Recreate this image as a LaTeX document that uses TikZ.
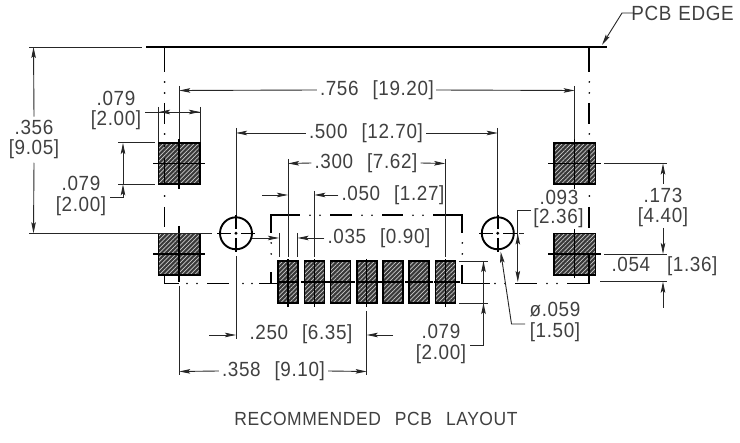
\documentclass[tikz,border=0pt]{standalone}
\usepackage{fontspec}
\setmainfont[LetterSpace=3,FakeStretch=0.92]{Liberation Sans}
\usetikzlibrary{arrows.meta,patterns.meta}
\definecolor{ink}{gray}{0.25}
\newcommand{\gp}{\hspace{14pt}}
\tikzset{
  dim/.style={line width=0.9pt,color=black!85},
  dimarr/.style={dim,-{Stealth[length=11pt,width=4.5pt,inset=2pt]}},
  outl/.style={line width=1.7pt,color=black},
  crossl/.style={line width=1.5pt,color=black},
  edgeline/.style={line width=2.4pt,color=black},
  lab/.style={inner sep=0pt,font=\fontsize{20.5}{21}\selectfont,text=ink,anchor=center},
  padbox/.style={fill=black!78,
     postaction={pattern={Lines[angle=45,distance=3.1pt,line width=0.7pt]},pattern color=white!80!black},
     postaction={draw=black,line width=1.6pt}},
  hole/.style={line width=1.9pt,draw=black}
}
\begin{document}
\begin{tikzpicture}[x=1pt,y=-1pt]
\useasboundingbox[fill=white] (0,0) rectangle (740,443);
% pads
\foreach \n/\xa/\ya in {tl/158.5/142.8,tr/553.8/142.8,bl/158.5/233.5,br/553.8/233.5}
  \path[padbox] (\xa,\ya) coordinate (p\n) rectangle ++(41.5,41.5);
\foreach \c in {288,314.3,340.5,366.7,392.8,419,445.3}
  \path[padbox] (\c-10,261.3) rectangle (\c+10,303);
% pcb edge
\draw[edgeline] (146,47) -- (607,47);
\draw[dim] (29,47) -- (142,47);
% outline left
\draw[outl] (164.6,47) -- (164.6,72) (164.6,103) -- (164.6,124) (164.6,158) -- (164.6,184) (164.6,207) -- (164.6,227);
\draw[outl] (164.6,275) -- (164.6,283.5) -- (179,283.5) (207,283.5) -- (229,283.5) (259,283.5) -- (271.2,283.5) -- (271.2,272) (271.2,233) -- (271.2,215.3) -- (300,215.3)
  (330,215.3) -- (352,215.3) (382,215.3) -- (403,215.3) (433,215.3) -- (462.3,215.3) -- (462.3,233) (462.3,265) -- (462.3,283.5) -- (490,283.5) (515,283.5) -- (537,283.5) (567,283.5) -- (589.3,283.5) -- (589.3,255)
  (589.3,47) -- (589.3,72) (589.3,103) -- (589.3,124) (589.3,150) -- (589.3,184) (589.3,207) -- (589.3,228);
\fill[black] \foreach \p in {(164.6,82),(164.6,93),(164.6,134),(164.6,146),(164.6,196),(589.3,82),(589.3,93),(589.3,134),(589.3,196),(187,283.5),(197,283.5),(243,283.5),(252,283.5),(271.2,243),(271.2,254),(310,215.3),(320,215.3),(362,215.3),(372,215.3),(413,215.3),(423,215.3),(462.3,243),(462.3,254),(495,283.5),(505,283.5),(547,283.5),(557,283.5)} {\p circle (0.95pt)};
\draw[outl] (265,283.5) -- (278,283.5);
% large pad crosses
\draw[crossl] (153,163.5) -- (205,163.5) (179.2,139) -- (179.2,189)
  (548,163.5) -- (601,163.5) (574.7,139) -- (574.7,189)
  (153,254) -- (205,254) (179.2,226) -- (179.2,282)
  (548,254) -- (601,254) (574.7,229) -- (574.7,278);
% small pad lines
\draw[crossl] (278,282) -- (298,282) (301,282) -- (355,282) (357,282) -- (403,282) (405,282) -- (433,282) (434,282) -- (460,282);
\draw[crossl] (288,259) -- (288,307.5) (314.3,259) -- (314.3,307.5) (366.7,259) -- (366.7,307.5) (445.3,259) -- (445.3,307.5);
% holes
\draw[hole] (236,233.3) circle (16);
\draw[hole] (497.8,233.3) circle (16);
\draw[crossl] (217,233.3) -- (231,233.3) (241,233.3) -- (255,233.3) (236,215) -- (236,229) (236,238) -- (236,252)
  (479,233.3) -- (493,233.3) (503,233.3) -- (517,233.3) (497.8,215) -- (497.8,229) (497.8,238) -- (497.8,252);
\fill[black] (236,233.3) circle (1.6pt) (497.8,233.3) circle (1.6pt);
% texts
\node[lab] (t756) at (377,90) {.756\gp[19.20]};
\node[lab] (t500) at (366,133) {.500\gp[12.70]};
\node[lab] (t300) at (366,163) {.300\gp[7.62]};
\node[lab] (t050) at (393,195) {.050\gp[1.27]};
\node[lab] (t035) at (379,238) {.035\gp[0.90]};
\node[lab] (t250) at (301,334) {.250\gp[6.35]};
\node[lab] (t358) at (273.5,371) {.358\gp[9.10]};
\node[lab] (t356a) at (34,127) {.356};
\node[lab] (t356b) at (34,149) {[9.05]};
\node[lab] (t079a) at (116,98) {.079};
\node[lab] (t079b) at (116,120) {[2.00]};
\node[lab] (t079c) at (81,183.5) {.079};
\node[lab] (t079d) at (81,206) {[2.00]};
\node[lab] (t093a) at (559,197) {.093};
\node[lab] (t093b) at (558.5,218) {[2.36]};
\node[lab] (t173a) at (663,195) {.173};
\node[lab] (t173b) at (663,217) {[4.40]};
\node[lab] (t054) at (664.5,266) {.054\hspace{17pt}[1.36]};
\node[lab] (t059a) at (555,310) {ø.059};
\node[lab] (t059b) at (555,332) {[1.50]};
\node[lab] (t079e) at (441,331) {.079};
\node[lab] (t079f) at (441,354) {[2.00]};
\node[lab] (edge) at (682.5,13) {PCB\hspace{7pt}EDGE};
\node[lab,font=\fontsize{19}{19}\selectfont] (title) at (376,419) {RECOMMENDED\gp PCB\gp LAYOUT};
% extension lines
\draw[dim] (179.2,86) -- (179.2,139) (574.7,86) -- (574.7,139)
  (236,128) -- (236,215) (497.8,128) -- (497.8,215)
  (288,159) -- (288,257) (445.3,159) -- (445.3,257)
  (314.3,191) -- (314.3,257) (279,233) -- (279,257) (297.5,233) -- (297.5,257)
  (236,256) -- (236,339) (366.7,311) -- (366.7,375) (179.2,286) -- (179.2,375)
  (29,233.3) -- (212,233.3) (158.5,107) -- (158.5,142) (200,107) -- (200,142)
  (118,142.8) -- (155,142.8) (118,184.3) -- (155,184.3)
  (604,163.5) -- (667,163.5) (604,254) -- (667,254) (600,281.7) -- (667,281.7)
  (459,261) -- (488,261) (459,303) -- (488,303) (519,233.3) -- (524,233.3);
% dimension lines
\draw[dimarr] (t756.west) ++(-3,0) -- (179.2,90.5);
\draw[dimarr] (t756.east) ++(2,0) -- (574.7,90.5);
\draw[dimarr] (t500.west) ++(-3,0) -- (236,133);
\draw[dimarr] (t500.east) ++(3,0) -- (497.8,133);
\draw[dimarr] (t300.west) ++(-3,0) -- (288,163.5);
\draw[dimarr] (t300.east) ++(3,0) -- (445.3,163.5);
\draw[dimarr] (t050.west) ++(-3,0) -- (314.3,195);
\draw[dimarr] (262,195) -- (288,195);
\draw[dimarr] (t035.west) ++(-3,0) -- (297.5,238);
\draw[dimarr] (252,238) -- (279,238);
\draw[dimarr] (209,335) -- (236,335);
\draw[dimarr] (393,335) -- (366.7,335);
\draw[dimarr] (t358.west) ++(-3,0) -- (179.2,371.5);
\draw[dimarr] (t358.east) ++(3,0) -- (366.7,371.5);
\draw[dimarr] (t356a.north) ++(0,-3) -- (33.5,47);
\draw[dimarr] (t356b.south) ++(0,4) -- (33.5,233.3);
\draw[dim] (145,112) -- (200,112);
\draw[dimarr] (185,112) -- (200,112);
\draw[dimarr] (175,112) -- (159,112);
\draw[dimarr] (123,184) -- (123,143);
\draw[dimarr] (110,197) -- (123,197) -- (123,184.3);
\draw[dimarr] (530.7,210) -- (517.8,210) -- (517.8,282);
\draw[dimarr] (517.8,260) -- (517.8,233.5);
\draw[dimarr] (663,184) -- (663,163.5);
\draw[dimarr] (663,228) -- (663,254);
\draw[dimarr] (663,308) -- (663,281.7);
\draw[dimarr] (525,324) -- (511.5,324) -- (500.7,251.7);
\draw[dimarr] (483.5,303) -- (483.5,261);
\draw[dimarr] (470,345) -- (483.5,345) -- (483.5,303);
\draw[dimarr] (634,13) -- (622,13) -- (602,45);
\end{tikzpicture}
\end{document}
